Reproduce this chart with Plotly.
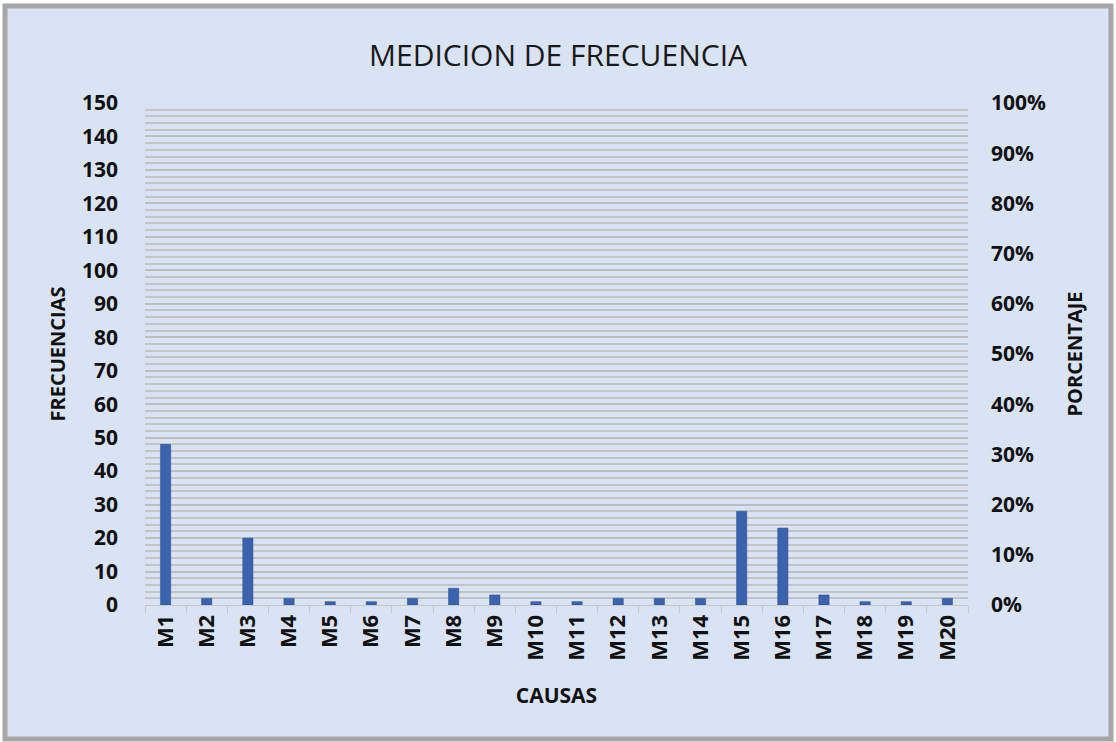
import plotly.graph_objects as go

categories = ["M1","M2","M3","M4","M5","M6","M7","M8","M9","M10",
              "M11","M12","M13","M14","M15","M16","M17","M18","M19","M20"]
frecuencias = [48, 2, 20, 2, 1, 1, 2, 5, 3, 1, 1, 2, 2, 2, 28, 23, 3, 1, 1, 2]
left_ticks = list(range(0, 151, 10))
right_ticks = [i / 100 for i in range(0, 101, 10)]

FONT = "Open Sans"
L, R, T, B = 145, 148, 103, 137
PW, PH = 1116 - L - R, 742 - T - B

fig = go.Figure()
fig.add_trace(go.Bar(x=categories, y=frecuencias, marker=dict(color="#3A62AD",
                     line=dict(color="#2F5597", width=0.5)), yaxis="y"))
fig.add_trace(go.Scatter(x=[], y=[], yaxis="y2", showlegend=False))

tf = dict(family=FONT, size=21, color="#111111", weight="bold")

fig.update_layout(
    width=1116, height=742,
    paper_bgcolor="white", plot_bgcolor="rgba(0,0,0,0)",
    margin=dict(l=L, r=R, t=T, b=B, autoexpand=False),
    showlegend=False, bargap=0.75,
    title=dict(text="MEDICION DE FRECUENCIA", x=0.5, xanchor="center",
               y=(742 - 55) / 742, yanchor="middle",
               font=dict(family=FONT, size=30, color="#1a1a1a")),
    xaxis=dict(type="category", tickson="boundaries", ticks="outside", ticklen=7,
               tickcolor="#c8c8c8", showline=True, linecolor="#c8c8c8", linewidth=1,
               showgrid=False, tickangle=-90, automargin=False,
               tickfont=dict(family=FONT, size=22, color="#111111", weight="bold"),
               title=dict(text="CAUSAS", standoff=28,
                          font=dict(family=FONT, size=21, color="#111111", weight="bold"))),
    yaxis=dict(range=[0, 150], tickvals=left_ticks, showgrid=True, automargin=False,
               gridcolor="#bdbdbd", gridwidth=1.5, zeroline=False, showline=False,
               minor=dict(dtick=2, showgrid=True, gridcolor="#c4c4c4", gridwidth=1.5),
               tickfont=tf, ticklabelstandoff=26,
               title=dict(text="FRECUENCIAS", standoff=10,
                          font=dict(family=FONT, size=20, color="#111111", weight="bold"))),
    yaxis2=dict(range=[0, 1], tickvals=right_ticks, tickformat=".0%", overlaying="y",
                side="right", showgrid=False, zeroline=False, showline=False,
                automargin=False, ticklabelstandoff=22, tickfont=tf,
                title=dict(text="PORCENTAJE", standoff=22,
                           font=dict(family=FONT, size=20, color="#111111", weight="bold"))),
    shapes=[dict(type="rect", xref="paper", yref="paper", layer="below",
                 x0=(5 - L) / PW, x1=(1111 - L) / PW,
                 y0=(T + PH - 739) / PH, y1=(T + PH - 6) / PH,
                 fillcolor="#DAE3F3", line=dict(color="#A6A6A6", width=5))],
)

fig.write_html("out.html", config={"displayModeBar": False},
               post_script="document.body.style.margin='0';document.body.style.overflow='hidden';")
